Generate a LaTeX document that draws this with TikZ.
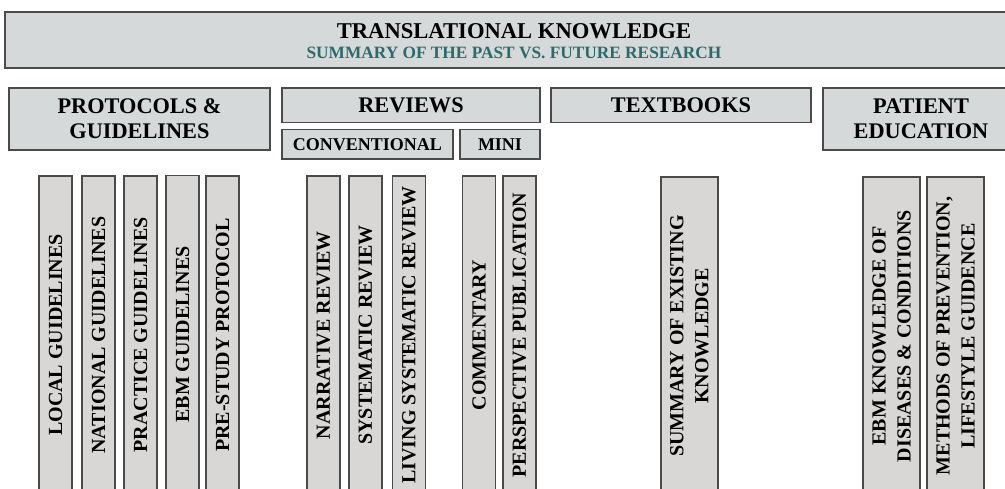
\documentclass[tikz,border=0pt]{standalone}
\usepackage{fontspec}
\setmainfont{Liberation Serif}
\definecolor{hdrfill}{HTML}{D5D9D9}
\definecolor{colfill}{HTML}{D9D7D6}
\definecolor{edge}{HTML}{4A4A4A}
\definecolor{teal2}{HTML}{2C6B6B}
\tikzset{
  hdr/.style={draw=edge, line width=1.2pt, fill=hdrfill, inner sep=0pt, align=center,
    font=\fontsize{22.3}{25}\selectfont\bfseries},
  subhdr/.style={hdr, font=\fontsize{18}{21}\selectfont\bfseries},
  colbox/.style={draw=edge, line width=1.2pt, fill=colfill, inner sep=0pt, align=center,
    rotate=90, minimum width=318pt,
    font=\fontsize{20}{25}\selectfont\bfseries},
  narrow/.style={colbox, minimum height=33pt},
  wide/.style={colbox, minimum height=57pt},
  ttl/.style={anchor=base, inner sep=0pt, font=\fontsize{22.6}{26}\selectfont\bfseries},
  subttl/.style={anchor=base, inner sep=0pt, text=teal2, font=\fontsize{17.3}{20}\selectfont\bfseries}
}
\begin{document}
\begin{tikzpicture}[x=1pt,y=-1pt]
\useasboundingbox (0,0) rectangle (1005,488);
\clip (0,0) rectangle (1005,488);
\fill[white] (0,0) rectangle (1005,488);
% banner
\node[draw=edge, line width=1.4pt, fill=hdrfill, minimum width=1018pt, minimum height=56pt, inner sep=0pt] (banner) at (514,40) {};
\node[ttl] (title) at (514,38.5) {TRANSLATIONAL KNOWLEDGE};
\node[subttl] (subtitle) at (514,58) {SUMMARY OF THE PAST VS. FUTURE RESEARCH};
% headers
\node[hdr, minimum width=261pt, minimum height=62pt] (prot) at (139.5,119) {PROTOCOLS \&\\GUIDELINES};
\node[hdr, minimum width=258pt, minimum height=34.5pt] (rev) at (411,105.2) {REVIEWS};
\node[subhdr, minimum width=171pt, minimum height=29.5pt] (conv) at (367.5,144.2) {CONVENTIONAL};
\node[subhdr, minimum width=80pt, minimum height=29.5pt] (mini) at (500,144.2) {MINI};
\node[hdr, minimum width=260pt, minimum height=34.5pt] (text) at (681,105.2) {TEXTBOOKS};
\node[hdr, minimum width=196pt, minimum height=62pt] (pat) at (921,119) {PATIENT\\EDUCATION};
% protocol columns
\node[narrow] (p1) at (55.5,335) {LOCAL GUIDELINES};
\node[narrow] (p2) at (98.5,335) {NATIONAL GUIDELINES};
\node[narrow] (p3) at (140.5,335) {PRACTICE GUIDELINES};
\node[narrow] (p4) at (182.5,334.5) {EBM GUIDELINES};
\node[narrow] (p5) at (222.5,335) {PRE-STUDY PROTOCOL};
% review columns
\node[narrow] (r1) at (323.5,335) {NARRATIVE REVIEW};
\node[narrow] (r2) at (365.5,335) {SYSTEMATIC REVIEW};
\node[narrow] (r3) at (409,335) {LIVING SYSTEMATIC REVIEW};
\node[narrow] (r4) at (479,335) {COMMENTARY};
\node[narrow] (r5) at (519.5,335) {PERSPECTIVE PUBLICATION};
% textbook column
\node[wide] (t1) at (689.5,336) {SUMMARY OF EXISTING\\KNOWLEDGE};
% patient education columns
\node[wide] (e1) at (891.5,336) {EBM KNOWLEDGE OF\\DISEASES \& CONDITIONS};
\node[wide] (e2) at (955.5,336) {METHODS OF PREVENTION,\\LIFESTYLE GUIDENCE};
\end{tikzpicture}
\end{document}
